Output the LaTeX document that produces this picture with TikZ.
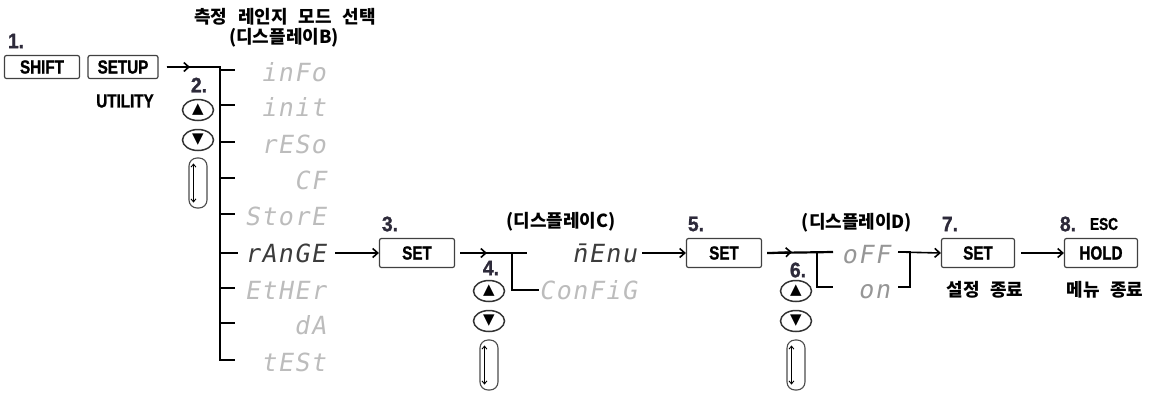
\documentclass[tikz,border=0pt]{standalone}
\usepackage{fontspec}
\setmainfont{Liberation Sans}
\newfontfamily\kofont{Noto Sans CJK KR}[WordSpace=2.6]
\newfontfamily\keyfont{Liberation Sans}[FakeStretch=0.8, FakeBold=1.2]
\newfontfamily\stepfont{Liberation Sans}[FakeStretch=0.92, FakeBold=1.2]
\newfontfamily\segfont{DejaVu Sans Mono}[FakeSlant=0.18, LetterSpace=6]
\newfontfamily\symfont{DejaVu Sans}
\usetikzlibrary{positioning, arrows.meta, shapes.geometric}

\definecolor{stepcol}{RGB}{45,42,58}
\definecolor{segon}{RGB}{60,60,60}
\definecolor{segmid}{RGB}{150,150,150}
\definecolor{segoff}{RGB}{188,188,188}

\begin{document}
\begin{tikzpicture}[x=1pt, y=-1pt, >={Straight Barb[length=5pt, width=9pt]},
    keybox/.style={draw=black!75, line width=1.2pt, rounded corners=2pt, inner sep=0pt,
        minimum height=29pt, minimum width=75pt, font=\keyfont\bfseries\fontsize{19}{20}\selectfont},
    stepno/.style={text=stepcol, inner sep=0pt, font=\stepfont\bfseries\fontsize{21}{21}\selectfont},
    kolabel/.style={inner sep=0pt, font=\kofont\bfseries\fontsize{18}{20}\selectfont},
    seg/.style={anchor=east, inner sep=0pt, font=\segfont\fontsize{25}{25}\selectfont, text=segoff},
    keyoval/.style={draw=black!80, ellipse, line width=1.5pt, inner sep=0pt,
        minimum width=31pt, minimum height=21pt},
    loopbox/.style={draw=black!70, line width=1.1pt, rounded corners=8pt, inner sep=0pt,
        minimum width=18pt, minimum height=50pt},
    arr/.style={->, line width=1.6pt},
    trunk/.style={line width=2.2pt},
    thin/.style={line width=1.4pt}]
    \useasboundingbox (0,0) rectangle (1151,392);

    % Step 1
    \node[stepno] (n1) at (16,41) {1.};
    \node[keybox, minimum height=23pt, minimum width=75pt] (shift) at (42,67) {SHIFT};
    \node[keybox, minimum height=23pt, minimum width=70pt] (setup) at (123,67) {SETUP};
    \node[inner sep=0pt, font=\keyfont\bfseries\fontsize{19}{20}\selectfont] (utility) at (125,101) {UTILITY};

    % Display B
    \node[kolabel] (titleB) at (285,17) {측정 레인지 모드 선택};
    \node[kolabel] (dispB) at (284,38) {(디스플레이B)};
    \coordinate (bTop) at (220,67);
    \coordinate (bBot) at (220,361);
    \coordinate (tipB) at (190,67);
    \node[seg] (info) at (326,72) {inFo};
    \node[seg] (init) at (326,107) {init};
    \node[seg] (reso) at (326,144) {rESo};
    \node[seg] (cf) at (326,180) {CF};
    \node[seg] (store) at (326,216) {StorE};
    \node[seg, text=segon] (range) at (326,253) {rAnGE};
    \node[seg] (ether) at (326,290) {EtHEr};
    \node[seg] (da) at (326,325) {dA};
    \node[seg] (test) at (326,362) {tESt};

    % Step 2
    \node[stepno] (n2) at (199,85) {2.};
    \node[keyoval] (upB) at (198,110) {\symfont\fontsize{15}{15}\selectfont ▲};
    \node[keyoval] (downB) at (198,140) {\symfont\fontsize{15}{15}\selectfont ▼};
    \node[loopbox] (loopB) at (198,183) {};

    % Steps 3 and 4, display C
    \node[stepno] (n3) at (390,224) {3.};
    \node[keybox] (set3) at (417,253) {SET};
    \node[kolabel] (dispC) at (561,222) {(디스플레이C)};
    \coordinate (tipC) at (487,253);
    \coordinate (cJoin) at (512,253);
    \coordinate (cEnd) at (527,253);
    \node[seg, text=segon] (menu) at (637,253) {\={n}Enu};
    \node[seg] (config) at (637,290) {ConFiG};
    \node[stepno] (n4) at (491,268) {4.};
    \node[keyoval] (upC) at (489,291) {\symfont\fontsize{15}{15}\selectfont ▲};
    \node[keyoval] (downC) at (489,321) {\symfont\fontsize{15}{15}\selectfont ▼};
    \node[loopbox] (loopC) at (489,365) {};

    % Steps 5 and 6, display D
    \node[stepno] (n5) at (696,224) {5.};
    \node[keybox] (set5) at (724,253) {SET};
    \node[kolabel] (dispD) at (857,223) {(디스플레이D)};
    \coordinate (tipD) at (792,252);
    \coordinate (dJoin) at (817,252);
    \coordinate (dEnd) at (833,252);
    \node[seg, text=segmid] (off) at (890,255) {oFF};
    \node[seg, text=segmid] (on) at (890,292) {on};
    \coordinate (eStart) at (898,252);
    \coordinate (eJoin) at (910,252);
    \node[stepno] (n6) at (798,270) {6.};
    \node[keyoval] (upD) at (796,291) {\symfont\fontsize{15}{15}\selectfont ▲};
    \node[keyoval] (downD) at (796,321) {\symfont\fontsize{15}{15}\selectfont ▼};
    \node[loopbox] (loopD) at (796,365) {};

    % Steps 7 and 8
    \node[stepno] (n7) at (950,224) {7.};
    \node[keybox, minimum width=73pt] (set7) at (978,253) {SET};
    \node[kolabel] (endSet) at (985,290) {설정 종료};
    \node[stepno] (n8) at (1068,224) {8.};
    \node[inner sep=0pt, font=\keyfont\bfseries\fontsize{17}{18}\selectfont] (esc) at (1104,224) {ESC};
    \node[keybox, minimum width=73pt] (hold) at (1101,253) {HOLD};
    \node[kolabel] (endMenu) at (1105,290) {메뉴 종료};

    % Connections
    \draw[trunk] ([xshift=8pt]setup.east) -- (bTop) -- (range -| bTop);
    \draw[thin] (range -| bTop) -- (bBot);
    \draw[arr] ([xshift=8pt]setup.east) -- (tipB);
    \foreach \item in {info, init, reso, cf, store, ether, da, test}
        \draw[thin] (bTop |- \item) ++(0,-2) -- ++(15,0);
    \draw[trunk] (range -| bTop) -- ++(18,0);
    \draw[arr] ([xshift=9pt]range.east) -- (set3.west);

    \draw[trunk] ([xshift=5pt]set3.east) -- (cEnd);
    \draw[arr] ([xshift=5pt]set3.east) -- (tipC);
    \draw[thin] (cJoin) -- (cJoin |- config) -- (config.west);
    \draw[arr] ([xshift=5pt]menu.east) -- (set5.west);

    \draw[trunk] ([xshift=5pt]set5.east) -- (dEnd);
    \draw[arr] ([xshift=5pt]set5.east) -- (tipD);
    \draw[trunk] (dJoin) -- ++(0,35) -- ++(16,0);
    \draw[trunk] (eStart) -- (eJoin) -- ++(0,35) -- ++(-12,0);
    \draw[arr] (eStart) -- (set7.west);
    \draw[arr] ([xshift=6pt]set7.east) -- (hold.west);

    % Loop arrows
    \foreach \lp in {loopB, loopC, loopD}
        \draw[{Straight Barb[length=3pt, width=5pt]}-{Straight Barb[length=3pt, width=5pt]}, line width=0.9pt]
            ([xshift=5pt, yshift=-6pt]\lp.north west) -- ([xshift=5pt, yshift=6pt]\lp.south west);
\end{tikzpicture}
\end{document}
